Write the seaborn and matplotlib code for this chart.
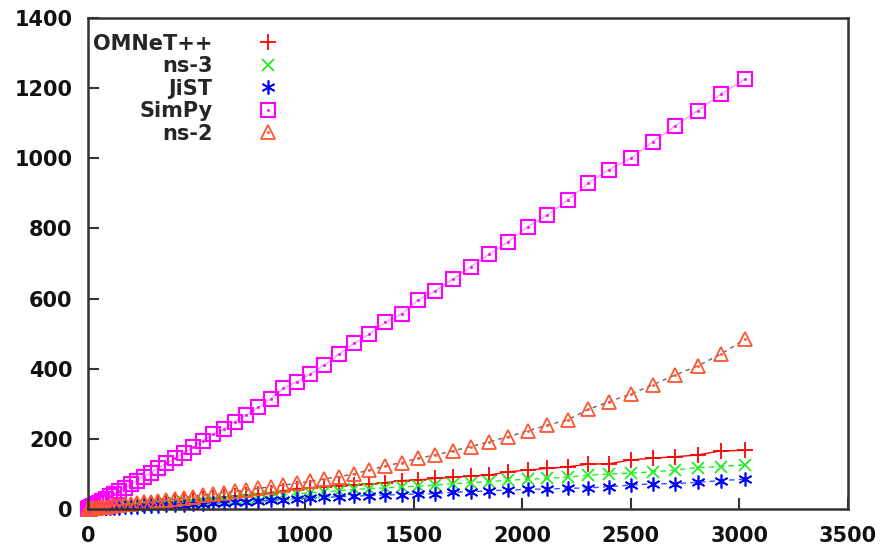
import matplotlib
matplotlib.use("Agg")
from matplotlib import pyplot as plt
from matplotlib.lines import Line2D
import seaborn as sns
import pandas as pd


# x positions of the measurements
x_vals = [1, 4, 9, 16, 25, 36, 49, 64, 81, 100, 121, 144, 169, 196, 225, 256, 289, 324, 361, 400,
          441, 484, 529, 576, 625, 676, 729, 784, 841, 900, 961, 1024, 1089, 1156, 1225, 1296, 1369,
          1444, 1521, 1600, 1681, 1764, 1849, 1936, 2025, 2116, 2209, 2304, 2401, 2500, 2601, 2704,
          2809, 2916, 3025]

omnet = [0, 0.2, 0.5, 1, 1.3, 2, 2.5, 3, 4, 5, 6, 7, 8, 10, 11, 13, 15, 17, 19, 21,
         23, 26, 28, 31, 34, 37, 40, 43, 47, 52, 57, 61, 64, 66, 68, 71, 75,
         81, 83, 87, 90, 94, 97, 106, 111, 116, 120, 128, 129, 140, 145, 149,
         154, 166, 167]

ns3 = [0, 0.2, 0.4, 0.7, 1, 1.5, 2, 2.7, 3.4, 4, 5, 6, 7, 8, 9, 11, 12, 14, 15, 17,
       19, 21, 23, 25, 27, 29, 32, 34, 37, 40, 43, 46, 49, 52, 56, 58, 60,
       63, 65, 68, 72, 75, 78, 82, 85, 87, 91, 96, 100, 102, 106, 111,
       118, 121, 126]

jist = [0, 0.1, 0.3, 0.5, 0.7, 1, 1.4, 1.8, 2.3, 2.8, 3.4, 4, 4.7, 5.5, 6.3, 7.2, 8, 9, 10, 11,
        12.5, 14, 15, 16.5, 18, 19.5, 21, 23, 25, 27, 29, 31, 33, 35, 37, 38, 40,
        41, 43, 44, 48, 49, 52, 54, 56, 57, 59, 60, 64, 68, 72, 72,
        76, 81, 85]

simpy = [0.5, 1.5, 3.5, 6, 9, 13, 18, 23, 29, 36, 44, 52, 61, 70, 81, 92, 104, 117, 130, 144,
         159, 176, 195, 213, 228, 249, 268, 290, 313, 344, 363, 385, 411, 441, 472, 499, 532,
         556, 596, 622, 655, 691, 727, 762, 805, 838, 881, 929, 968, 1000, 1047, 1092,
         1136, 1183, 1225]

ns2 = [0.3, 0.8, 1.5, 2, 3, 4, 5, 6, 7, 8, 10, 11, 13, 15, 17, 19, 21, 23, 26, 28,
       31, 35, 39, 43, 47, 50, 54, 59, 63, 68, 73, 79, 86, 92, 100, 111, 123,
       132, 145, 154, 166, 178, 192, 206, 223, 239, 254, 284, 306, 328, 354, 382,
       408, 442, 484]

names = ["OMNeT++", "ns-3", "JiST", "SimPy", "ns-2"]
x_ticks = [0, 500, 1000, 1500, 2000, 2500, 3000, 3500]
y_ticks = [0, 200, 400, 600, 800, 1000, 1200, 1400]

styles = {
    "OMNeT++": dict(pt="#ff0000", line="#ff0000", marker="+", ms=11, mew=1.3, ls="-", dot=False),
    "ns-3": dict(pt="#22ee22", line="#22ee22", marker="x", ms=9, mew=1.3, ls=(0, (4, 3)), dot=False),
    "JiST": dict(pt="#0000ff", line="#3355ff", marker=(6, 2, 0), ms=10, mew=1.2, ls=(0, (4, 3)), dot=False),
    "SimPy": dict(pt="#ff00ff", line="#ff99ff", marker="s", ms=9.5, mew=1.5, ls="-", dot=True),
    "ns-2": dict(pt="#ff5530", line="#666666", marker="^", ms=10, mew=1.3, ls=(0, (3, 3)), dot=True),
}

df = pd.DataFrame({"x": x_vals, "OMNeT++": omnet, "ns-3": ns3, "JiST": jist,
                   "SimPy": simpy, "ns-2": ns2})
df = df.melt(id_vars="x", var_name="sim", value_name="y")

sns.set_style("white")
plt.rcParams["font.family"] = ["DejaVu Sans"]
plt.rcParams["font.weight"] = "bold"

fig = plt.figure(figsize=(8.84, 5.47), dpi=100)
ax = fig.add_axes([0.0995, 0.0695, 0.8597, 0.8976])

handles = []
for name in names:
    st = styles[name]
    sub = df[df["sim"] == name]
    sns.lineplot(data=sub, x="x", y="y", ax=ax, color=st["line"], linestyle=st["ls"], lw=1,
                 marker=st["marker"], markersize=st["ms"], markeredgecolor=st["pt"],
                 markerfacecolor="none", markeredgewidth=st["mew"], clip_on=False,
                 estimator=None, legend=False)
    h = Line2D([], [], ls="none", marker=st["marker"], ms=st["ms"], mec=st["pt"],
               mfc="none", mew=st["mew"])
    if st["dot"]:
        sns.lineplot(data=sub, x="x", y="y", ax=ax, linestyle="", marker="o", markersize=1.6,
                     markeredgecolor=st["pt"], markerfacecolor=st["pt"], markeredgewidth=0.5,
                     clip_on=False, estimator=None, legend=False)
        d = Line2D([], [], ls="none", marker="o", ms=1.6, mec=st["pt"], mfc=st["pt"], mew=0.5)
        h = (h, d)
    handles.append(h)

ax.set(xlim=(0, 3500), ylim=(0, 1400), xticks=x_ticks, yticks=y_ticks, xlabel="", ylabel="")
ax.tick_params(axis="both", direction="in", length=8, width=1.5, color="#333333",
               labelsize=15, labelcolor="#111111", top=False, right=False,
               bottom=True, left=True)
ax.tick_params(axis="x", pad=12.5)
ax.tick_params(axis="y", pad=11)
for sp in ax.spines.values():
    sp.set_visible(True)
    sp.set_color("#333333")
    sp.set_linewidth(1.8)

leg = ax.legend(handles, names, loc="upper left", bbox_to_anchor=(0.0066, 0.968),
                frameon=False, markerfirst=False, handlelength=1.0,
                handletextpad=2.15, labelspacing=0.12, borderpad=0, borderaxespad=0,
                prop={"weight": "bold", "size": 15})

fig.savefig("out.png", dpi=100)
